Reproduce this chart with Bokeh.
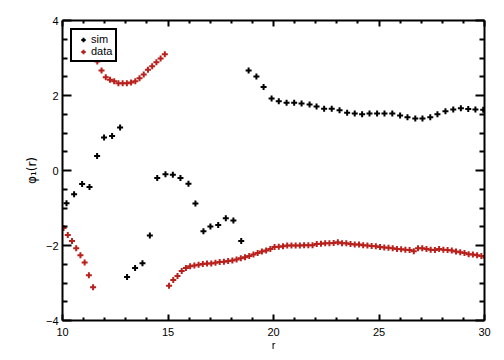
from bokeh.plotting import figure
from bokeh.models import Range1d, LinearAxis, FixedTicker, Legend, LegendItem
from bokeh.embed import file_html
from bokeh.resources import INLINE

# ---- data ----
sim_r = [10.19, 10.55, 10.93, 11.28, 11.64, 11.97, 12.35, 12.73, 13.06, 13.44,
         13.79, 14.14, 14.49, 14.88, 15.23, 15.59, 15.97, 16.30, 16.68, 17.01,
         17.38, 17.74, 18.10, 18.47, 18.82, 19.19, 19.53, 19.91, 20.25, 20.62,
         20.98, 21.33, 21.71, 22.04, 22.40, 22.76, 23.13, 23.49, 23.85, 24.20,
         24.55, 24.91, 25.26, 25.63, 26.00, 26.35, 26.72, 27.06, 27.43, 27.77,
         28.15, 28.52, 28.88, 29.23, 29.57, 29.94]
sim_phi = [-0.87, -0.63, -0.36, -0.44, 0.39, 0.88, 0.92, 1.15, -2.84, -2.60,
           -2.47, -1.73, -0.20, -0.10, -0.11, -0.20, -0.35, -0.88, -1.62, -1.49,
           -1.45, -1.27, -1.33, -1.88, 2.67, 2.51, 2.23, 1.92, 1.85, 1.81,
           1.81, 1.79, 1.76, 1.71, 1.65, 1.65, 1.61, 1.54, 1.52, 1.50,
           1.52, 1.52, 1.52, 1.52, 1.47, 1.42, 1.39, 1.39, 1.42, 1.50,
           1.58, 1.63, 1.66, 1.64, 1.63, 1.62]

data_r = [10.05, 10.25, 10.45, 10.65, 10.85, 11.05, 11.25, 11.45,
          11.65, 11.85, 12.05, 12.25, 12.45, 12.65, 12.85, 13.05, 13.25, 13.45,
          13.65, 13.85, 14.05, 14.25, 14.45, 14.65, 14.85,
          15.05, 15.25, 15.45, 15.65, 15.85, 16.05, 16.25, 16.45, 16.65, 16.85,
          17.05, 17.25, 17.45, 17.65, 17.85, 18.05, 18.25, 18.45, 18.65, 18.85,
          19.05, 19.25, 19.45, 19.65, 19.85, 20.05, 20.25, 20.45, 20.65, 20.85,
          21.05, 21.25, 21.45, 21.65, 21.85, 22.05, 22.25, 22.45, 22.65, 22.85,
          23.05, 23.25, 23.45, 23.65, 23.85, 24.05, 24.25, 24.45, 24.65, 24.85,
          25.05, 25.25, 25.45, 25.65, 25.85, 26.05, 26.25, 26.45, 26.65, 26.85,
          27.05, 27.25, 27.45, 27.65, 27.85, 28.05, 28.25, 28.45, 28.65, 28.85,
          29.05, 29.25, 29.45, 29.65, 29.85, 30.05]
data_phi = [-1.53, -1.72, -1.88, -2.07, -2.26, -2.45, -2.79, -3.11,
            2.91, 2.67, 2.49, 2.42, 2.38, 2.33, 2.33, 2.33, 2.35, 2.38,
            2.46, 2.56, 2.69, 2.78, 2.89, 2.99, 3.10,
            -3.07, -2.92, -2.81, -2.68, -2.60, -2.55, -2.53, -2.51, -2.49, -2.48,
            -2.48, -2.46, -2.44, -2.43, -2.41, -2.40, -2.37, -2.34, -2.31, -2.28,
            -2.24, -2.20, -2.16, -2.13, -2.09, -2.04, -2.03, -2.02, -2.00, -2.00,
            -2.00, -2.00, -1.99, -1.99, -1.99, -1.96, -1.95, -1.94, -1.94, -1.93,
            -1.91, -1.94, -1.94, -1.96, -1.97, -1.97, -1.99, -2.00, -2.01, -2.02,
            -2.04, -2.05, -2.06, -2.07, -2.09, -2.10, -2.11, -2.12, -2.15, -2.07,
            -2.07, -2.09, -2.11, -2.12, -2.09, -2.11, -2.12, -2.13, -2.16, -2.18,
            -2.20, -2.23, -2.24, -2.26, -2.28, -2.32]

x_ticks = [10, 15, 20, 25, 30]
x_minor = [11, 12, 13, 14, 16, 17, 18, 19, 21, 22, 23, 24, 26, 27, 28, 29]
y_ticks = [-4, -2, 0, 2, 4]
y_minor = [-3.5, -3, -2.5, -1.5, -1, -0.5, 0.5, 1, 1.5, 2.5, 3, 3.5]
y_tick_labels = {-4: "\u22124", -2: "\u22122", 0: "0", 2: "2", 4: "4"}
x_label = "r"
y_label = "\u03c6\u2081(r)"
series_names = ["sim", "data"]
sim_color = "#000000"
data_color = "#b8201c"

FONT = "Liberation Sans"

p = figure(width=500, height=356,
           x_range=Range1d(10, 30), y_range=Range1d(-4, 4),
           x_axis_location=None, y_axis_location=None,
           output_backend="svg", toolbar_location=None,
           min_border_left=62, min_border_right=16,
           min_border_top=20, min_border_bottom=36)
p.xgrid.visible = False
p.ygrid.visible = False
p.outline_line_color = None
p.background_fill_color = "white"
p.border_fill_color = "white"

xt = FixedTicker(ticks=x_ticks, minor_ticks=x_minor)
yt = FixedTicker(ticks=y_ticks, minor_ticks=y_minor)

bottom = LinearAxis(ticker=xt)
left = LinearAxis(ticker=yt)
top = LinearAxis(ticker=xt)
right = LinearAxis(ticker=yt)
p.add_layout(bottom, "below")
p.add_layout(left, "left")
p.add_layout(top, "above")
p.add_layout(right, "right")

for ax, horiz in [(bottom, True), (top, True), (left, False), (right, False)]:
    ax.axis_line_width = 2
    ax.axis_line_color = "black"
    ax.major_tick_line_width = 2
    ax.minor_tick_line_width = 2
    ax.major_tick_line_color = "black"
    ax.minor_tick_line_color = "black"
    ax.major_tick_out = 0
    ax.minor_tick_out = 0
    if horiz:
        ax.major_tick_in = 6
        ax.minor_tick_in = 3
    else:
        ax.major_tick_in = 9
        ax.minor_tick_in = 5
    ax.major_label_text_font = FONT
    ax.major_label_text_font_size = "11px"
    ax.major_label_text_color = "black"

for ax in (top, right):
    ax.major_label_text_color = None
    ax.major_label_text_font_size = "1px"
    ax.major_label_standoff = 0

bottom.major_label_standoff = 7
bottom.axis_label = x_label
bottom.axis_label_text_font = FONT
bottom.axis_label_text_font_style = "normal"
bottom.axis_label_text_font_size = "11px"
bottom.axis_label_text_color = "black"
bottom.axis_label_standoff = 0

left.major_label_standoff = 4
left.major_label_overrides = y_tick_labels
left.axis_label = y_label
left.axis_label_text_font = "DejaVu Sans"
left.axis_label_text_font_style = "normal"
left.axis_label_text_font_size = "12px"
left.axis_label_text_color = "black"
left.axis_label_standoff = 4

r_sim = p.scatter(sim_r, sim_phi, marker="cross", size=6, line_width=2,
                  line_color=sim_color)
r_data = p.scatter(data_r, data_phi, marker="cross", size=6, line_width=2,
                   line_color=data_color)

lg = Legend(items=[LegendItem(label=series_names[0], renderers=[r_sim]),
                   LegendItem(label=series_names[1], renderers=[r_data])])
lg.location = (8, 258)
lg.padding = 3
lg.spacing = 0
lg.margin = 0
lg.glyph_width = 16
lg.glyph_height = 11
lg.label_height = 11
lg.label_standoff = 0
lg.label_text_font = FONT
lg.label_text_font_size = "11px"
lg.label_text_color = "black"
lg.border_line_color = "black"
lg.border_line_alpha = 1.0
lg.border_line_width = 2
lg.background_fill_color = "white"
lg.background_fill_alpha = 1.0
p.add_layout(lg, "center")

open("out.html", "w").write(file_html(p, INLINE))
